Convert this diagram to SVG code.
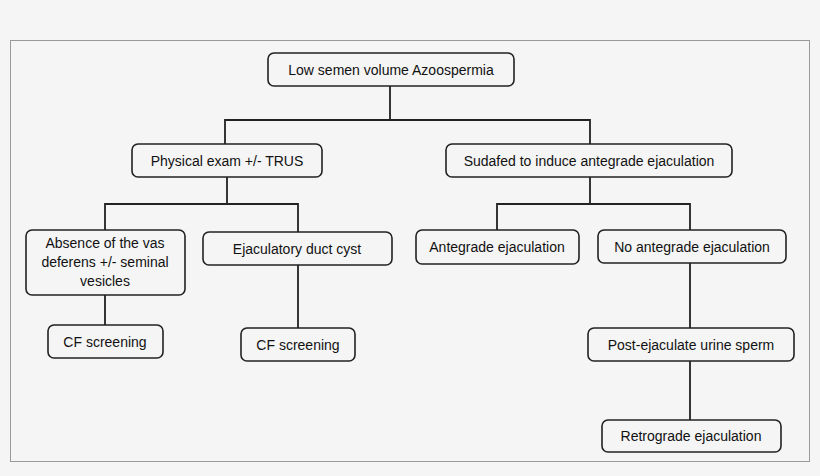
<svg xmlns="http://www.w3.org/2000/svg" width="820" height="476" viewBox="0 0 820 476">
<style>
.b{fill:#f5f5f5;stroke:#222;stroke-width:1.6}
text{font-family:"Liberation Sans",Arial,sans-serif;font-size:14px;fill:#111;text-anchor:middle}
.c{fill:none;stroke:#222;stroke-width:1.8}
</style>
<rect width="820" height="476" fill="#f5f5f5"/>
<rect x="10.5" y="40.5" width="799" height="421" fill="none" stroke="#999"/>
<g id="connectors" class="c">
<path d="M390 86V120M225 144V120H590V144"/>
<path d="M227 177V204M105 230V204H298V232M590 177V204M497 230V204H690V230"/>
<path d="M105 295V325M298 265V328M690 263V328M690 361V420"/>
</g>
<g id="n1"><rect class="b" x="268" y="53" width="246" height="33" rx="6"/><text x="391" y="75">Low semen volume Azoospermia</text></g>
<g id="n2"><rect class="b" x="132" y="144" width="190" height="33" rx="6"/><text x="227" y="166">Physical exam +/- TRUS</text></g>
<g id="n3"><rect class="b" x="446" y="144" width="286" height="33" rx="6"/><text x="589" y="166">Sudafed to induce antegrade ejaculation</text></g>
<g id="n4"><rect class="b" x="26" y="230" width="159" height="65" rx="6"/><text x="105" y="248">Absence of the vas</text><text x="105" y="267">deferens +/- seminal</text><text x="105" y="286">vesicles</text></g>
<g id="n5"><rect class="b" x="203" y="232" width="189" height="33" rx="6"/><text x="297" y="254">Ejaculatory duct cyst</text></g>
<g id="n6"><rect class="b" x="416" y="230" width="163" height="34" rx="6"/><text x="497" y="252">Antegrade ejaculation</text></g>
<g id="n7"><rect class="b" x="598" y="230" width="188" height="33" rx="6"/><text x="692" y="252">No antegrade ejaculation</text></g>
<g id="n8"><rect class="b" x="48" y="325" width="115" height="33" rx="6"/><text x="105" y="347">CF screening</text></g>
<g id="n9"><rect class="b" x="241" y="328" width="114" height="33" rx="6"/><text x="298" y="350">CF screening</text></g>
<g id="n10"><rect class="b" x="588" y="328" width="206" height="33" rx="6"/><text x="691" y="350">Post-ejaculate urine sperm</text></g>
<g id="n11"><rect class="b" x="602" y="420" width="179" height="32" rx="6"/><text x="691" y="441">Retrograde ejaculation</text></g>
</svg>
